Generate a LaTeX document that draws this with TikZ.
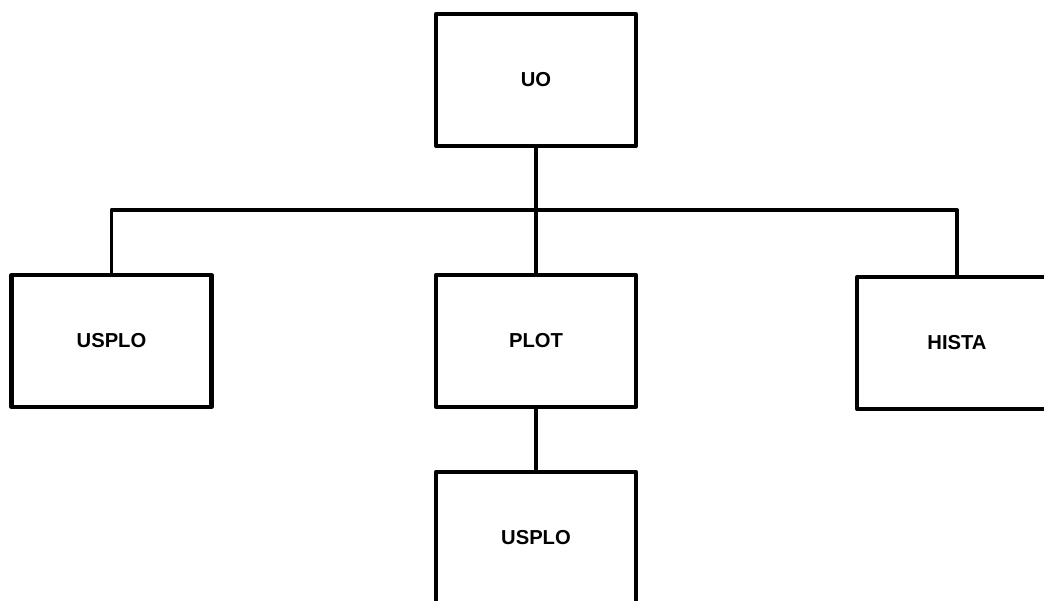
\documentclass[tikz,border=0pt]{standalone}
\usepackage{fontspec}
\setmainfont{Liberation Sans}
\begin{document}
\begin{tikzpicture}[x=0.02cm, y=-0.02cm, line width=2.2pt, line join=round,
    khoi/.style={draw, line width=2.4pt, minimum width=4cm, minimum height=2.64cm,
                 inner sep=0pt, font=\fontsize{11.5}{13}\selectfont\bfseries}]
    % Giới hạn vùng hiển thị
    \useasboundingbox (0, 0) rectangle (1044, 601);
    \clip (0, 0) rectangle (1044, 601);

    % 1. Các khối chương trình
    \node[khoi] (uo)     at (536, 80)    {UO};
    \node[khoi] (usplo)  at (111.5, 341) {USPLO};
    \node[khoi] (plot)   at (536, 341)   {PLOT};
    \node[khoi] (hista)  at (957, 343)   {HISTA};
    \node[khoi] (usplob) at (536, 538)   {USPLO};

    % 2. Thanh nối ngang
    \coordinate (bus) at (536, 210);

    % 3. Các đường nối
    \draw (uo.south) -- (plot.north);
    \draw (usplo.north) |- (bus) -| (hista.north);
    \draw (plot.south) -- (usplob.north);

\end{tikzpicture}
\end{document}
